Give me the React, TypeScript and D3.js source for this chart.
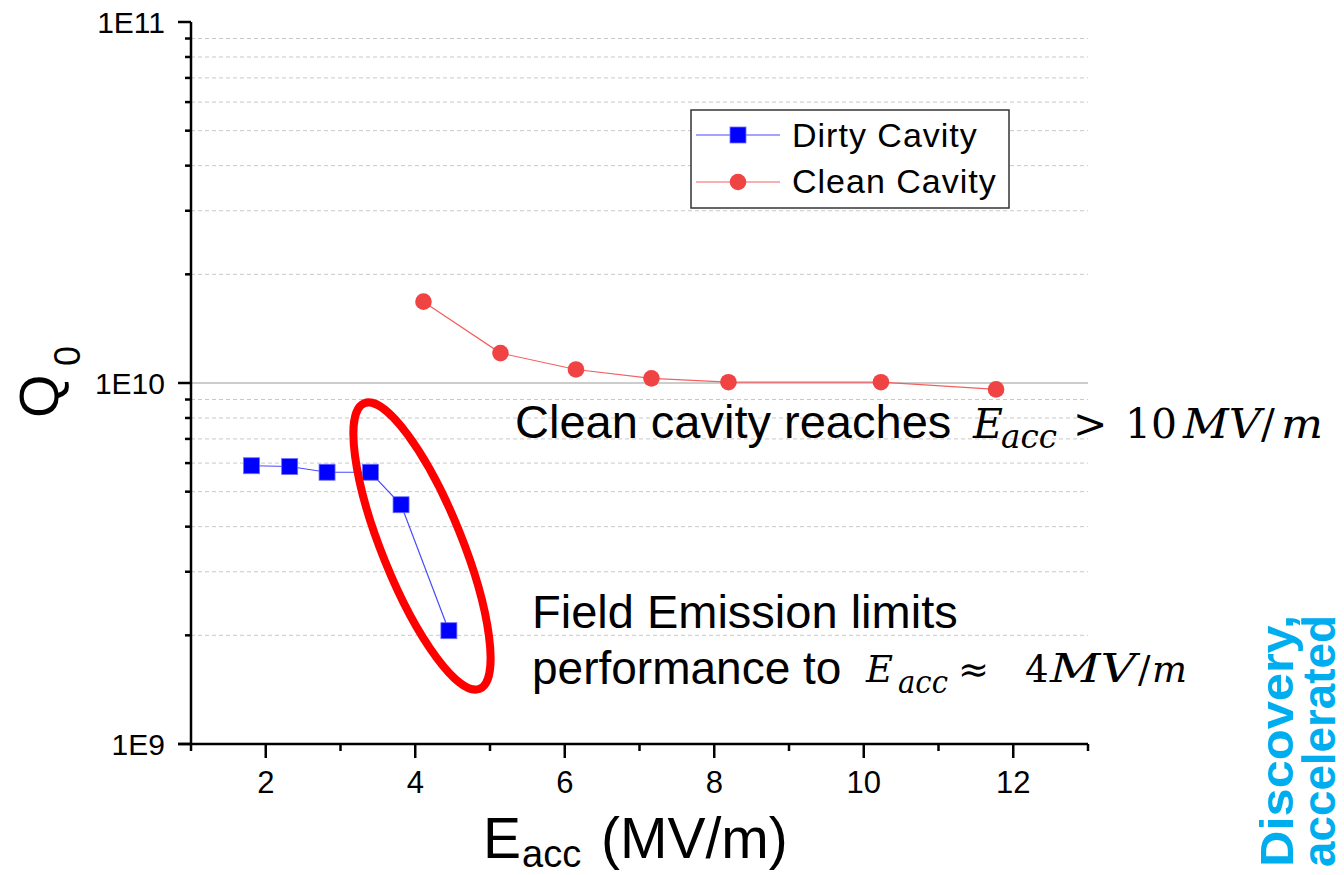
import React, { useEffect } from "react";
import * as d3 from "d3";

// ---- data ----
const dirtyE = [1.81, 2.32, 2.82, 3.4, 3.81, 4.45];
const dirtyQ = [5.9e9, 5.87e9, 5.66e9, 5.66e9, 4.6e9, 2.06e9];
const cleanE = [4.11, 5.14, 6.15, 7.16, 8.19, 10.23, 11.77];
const cleanQ = [1.68e10, 1.21e10, 1.09e10, 1.03e10, 1.005e10, 1.005e10, 9.6e9];

const xMajorTicks = [2, 4, 6, 8, 10, 12];
const xMinorTicks = [1, 3, 5, 7, 9, 11, 13];
const yMajorTicks = [1e9, 1e10, 1e11];
const yMajorLabels = ["1E9", "1E10", "1E11"];
const yMinorMultipliers = [2, 3, 4, 5, 6, 7, 8, 9];
const yDecades = [1e9, 1e10];

const seriesNames = ["Dirty Cavity", "Clean Cavity"];

const SANS = "'Liberation Sans', Arial, Helvetica, sans-serif";
const SERIF = "'DejaVu Serif', 'Liberation Serif', serif";

export default function App() {
  useEffect(() => {
    document.body.style.margin = "0";
    document.body.style.overflow = "hidden";
  }, []);

  const W = 1344;
  const H = 875;
  const x = d3.scaleLinear().domain([1, 13]).range([191, 1088]);
  const y = d3.scaleLog().domain([1e9, 1e11]).range([744, 22]);

  const dirty = dirtyE.map((e, i) => ({ e, q: dirtyQ[i] }));
  const clean = cleanE.map((e, i) => ({ e, q: cleanQ[i] }));
  const line = d3
    .line<{ e: number; q: number }>()
    .x((d) => x(d.e))
    .y((d) => y(d.q));

  const yMinor: number[] = [];
  yDecades.forEach((dec) => yMinorMultipliers.forEach((m) => yMinor.push(dec * m)));

  const x0 = x.range()[0];
  const x1 = x.range()[1];
  const yBottom = y.range()[0];
  const yTop = y.range()[1];

  const blue = "#0000ff";
  const blueLine = "#4a4aff";
  const red = "#f04444";
  const redLine = "#f26060";

  return (
    <svg
      width={W}
      height={H}
      style={{ position: "absolute", left: 0, top: 0, background: "#fff" }}
      fontFamily={SANS}
    >
      <rect x={0} y={0} width={W} height={H} fill="#fff" />

      {/* minor gridlines */}
      {yMinor.map((v, i) => (
        <line
          key={"g" + i}
          x1={x0}
          x2={x1}
          y1={y(v)}
          y2={y(v)}
          stroke="#c8c8c8"
          strokeWidth={1}
          strokeDasharray="4 3"
        />
      ))}
      {/* major gridline at 1E10 */}
      <line x1={x0} x2={x1} y1={y(1e10)} y2={y(1e10)} stroke="#9a9a9a" strokeWidth={1} />

      {/* axes */}
      <line x1={x0} x2={x0} y1={yTop} y2={yBottom} stroke="#000" strokeWidth={2.5} />
      <line x1={x0 - 13} x2={x1} y1={yBottom} y2={yBottom} stroke="#000" strokeWidth={2.5} />

      {/* y ticks */}
      {yMajorTicks.map((v, i) => (
        <g key={"ym" + i}>
          <line x1={x0 - 13} x2={x0} y1={y(v)} y2={y(v)} stroke="#000" strokeWidth={2.5} />
          <text x={165} y={y(v) + 11} textAnchor="end" fontSize={30} fill="#000">
            {yMajorLabels[i]}
          </text>
        </g>
      ))}
      {yMinor.map((v, i) => (
        <line key={"yn" + i} x1={x0 - 6} x2={x0} y1={y(v)} y2={y(v)} stroke="#000" strokeWidth={2.5} />
      ))}

      {/* x ticks */}
      {xMajorTicks.map((v, i) => (
        <g key={"xm" + i}>
          <line x1={x(v)} x2={x(v)} y1={yBottom} y2={yBottom + 14} stroke="#000" strokeWidth={2.5} />
          <text x={x(v)} y={793} textAnchor="middle" fontSize={31} fill="#000">
            {String(v)}
          </text>
        </g>
      ))}
      {xMinorTicks.map((v, i) => (
        <line key={"xn" + i} x1={x(v)} x2={x(v)} y1={yBottom} y2={yBottom + 7} stroke="#000" strokeWidth={2.5} />
      ))}

      {/* axis titles */}
      <text y={858} fontSize={57} fill="#000">
        <tspan x={483}>E</tspan>
        <tspan x={522} y={867} fontSize={38}>
          acc
        </tspan>
        <tspan x={601} y={858}>(MV/m)</tspan>
      </text>
      <g transform="translate(58,418) rotate(-90)">
        <text x={0} y={0} fontSize={56} fill="#000">
          <tspan x={0} y={0}>Q</tspan>
          <tspan x={52} y={22} fontSize={36}>
            0
          </tspan>
        </text>
      </g>

      {/* series lines */}
      <path d={line(dirty) || ""} fill="none" stroke={blueLine} strokeWidth={1.2} />
      <path d={line(clean) || ""} fill="none" stroke={redLine} strokeWidth={1.2} />

      {/* markers */}
      {dirty.map((d, i) => (
        <rect
          key={"ds" + i}
          x={x(d.e) - 8}
          y={y(d.q) - 8}
          width={16}
          height={16}
          fill={blue}
          stroke="#7070ff"
          strokeWidth={0.8}
        />
      ))}
      {clean.map((d, i) => (
        <circle key={"cc" + i} cx={x(d.e)} cy={y(d.q)} r={8.3} fill={red} />
      ))}

      {/* red highlight ellipse */}
      <ellipse
        cx={422}
        cy={546}
        rx={40}
        ry={154}
        transform="rotate(-22 422 546)"
        fill="none"
        stroke="#ff0000"
        strokeWidth={8}
      />

      {/* legend */}
      <rect x={691} y={110} width={318} height={98} fill="#fff" stroke="#333" strokeWidth={1.5} />
      <line x1={696} x2={780} y1={135} y2={135} stroke={blueLine} strokeWidth={1.2} />
      <rect x={730} y={127} width={16} height={16} fill={blue} stroke="#7070ff" strokeWidth={0.8} />
      <text x={792} y={147} fontSize={34} letterSpacing={1} fill="#000">
        {seriesNames[0]}
      </text>
      <line x1={696} x2={780} y1={182} y2={182} stroke={redLine} strokeWidth={1.2} />
      <circle cx={738} cy={182} r={8.3} fill={red} />
      <text x={792} y={193} fontSize={34} letterSpacing={1} fill="#000">
        {seriesNames[1]}
      </text>

      {/* annotation 1 */}
      <text x={515} y={438} fontSize={47} fill="#000">
        Clean cavity reaches
      </text>
      <text fontFamily={SERIF} fill="#000" fontSize={41}>
        <tspan x={973} y={438} fontStyle="italic">E</tspan>
        <tspan x={1001} y={448} fontStyle="italic" fontSize={34} textLength={56} lengthAdjust="spacingAndGlyphs">acc</tspan>
        <tspan x={1073} y={438}>&gt;</tspan>
        <tspan x={1125} y={438} textLength={52} lengthAdjust="spacingAndGlyphs">10</tspan>
        <tspan x={1183} y={438} fontStyle="italic" textLength={78} lengthAdjust="spacingAndGlyphs">MV</tspan>
        <tspan x={1261} y={438}>/</tspan>
        <tspan x={1281} y={438} fontStyle="italic" textLength={42} lengthAdjust="spacingAndGlyphs">m</tspan>
      </text>

      {/* annotation 2 */}
      <text x={532} y={628} fontSize={47} fill="#000">
        Field Emission limits
      </text>
      <text x={532} y={684} fontSize={46} fill="#000">
        performance to
      </text>
      <text fontFamily={SERIF} fill="#000" fontSize={37}>
        <tspan x={866} y={682} fontStyle="italic">E</tspan>
        <tspan x={898} y={693} fontStyle="italic" fontSize={32} textLength={50} lengthAdjust="spacingAndGlyphs">acc</tspan>
        <tspan x={958} y={682}>≈</tspan>
        <tspan x={1025} y={682}>4</tspan>
        <tspan x={1050} y={682} fontStyle="italic" fontSize={40} textLength={86} lengthAdjust="spacingAndGlyphs">MV</tspan>
        <tspan x={1138} y={682}>/</tspan>
        <tspan x={1152} y={682} fontStyle="italic" textLength={35} lengthAdjust="spacingAndGlyphs">m</tspan>
      </text>

      {/* side branding */}
      <g transform="translate(1293,615) rotate(-90)">
        <text x={0} y={0} textAnchor="end" fontSize={46} fontWeight="bold" fill="#00aeef" textLength={252} lengthAdjust="spacingAndGlyphs">
          Discovery,
        </text>
      </g>
      <g transform="translate(1335,615) rotate(-90)">
        <text x={0} y={0} textAnchor="end" fontSize={46} fontWeight="bold" fill="#00aeef" textLength={252} lengthAdjust="spacingAndGlyphs">
          accelerated
        </text>
      </g>
    </svg>
  );
}
